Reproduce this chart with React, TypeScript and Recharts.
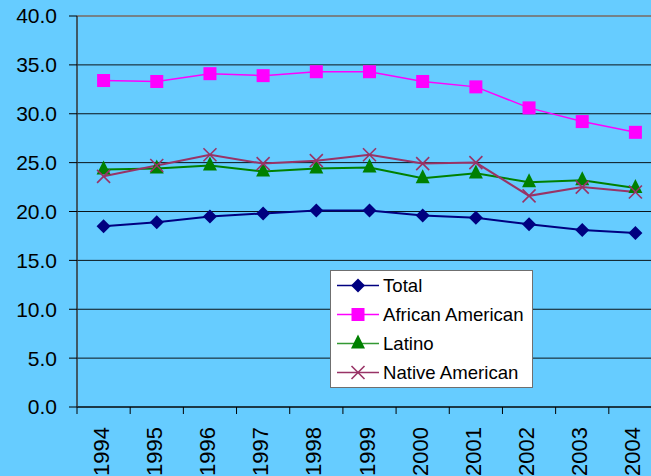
import React from 'react';
import { LineChart, Line, XAxis, YAxis, CartesianGrid, Legend, ReferenceLine } from 'recharts';

const years = ['1994', '1995', '1996', '1997', '1998', '1999', '2000', '2001', '2002', '2003', '2004'];
const total = [18.5, 18.9, 19.5, 19.8, 20.1, 20.1, 19.6, 19.35, 18.7, 18.1, 17.8];
const africanAmerican = [33.4, 33.3, 34.1, 33.9, 34.3, 34.3, 33.3, 32.75, 30.6, 29.2, 28.1];
const latino = [24.3, 24.4, 24.7, 24.1, 24.4, 24.5, 23.4, 23.9, 23.0, 23.2, 22.4];
const nativeAmerican = [23.6, 24.7, 25.8, 24.9, 25.2, 25.8, 24.9, 25.0, 21.6, 22.5, 22.0];
const yTicks = [0, 5, 10, 15, 20, 25, 30, 35, 40];

const data = years.map((year, i) => ({
  year,
  total: total[i],
  african: africanAmerican[i],
  latino: latino[i],
  native: nativeAmerican[i],
}));

const FONT = '"Liberation Sans", Arial, sans-serif';
const CHART_W = 670;
const CHART_H = 476;
const PLOT_LEFT = 77;
const PLOT_RIGHT_MARGIN = 8;
const PLOT_W = CHART_W - PLOT_LEFT - PLOT_RIGHT_MARGIN;
const BAND = PLOT_W / years.length;

type Shape = 'diamond' | 'square' | 'triangle' | 'cross';

const series: { key: string; name: string; color: string; legendLine: string; shape: Shape; width: number }[] = [
  { key: 'total', name: 'Total', color: '#000080', legendLine: '#000080', shape: 'diamond', width: 2 },
  { key: 'african', name: 'African American', color: '#FF00FF', legendLine: '#FF00FF', shape: 'square', width: 1.5 },
  { key: 'latino', name: 'Latino', color: '#008000', legendLine: '#339933', shape: 'triangle', width: 2 },
  { key: 'native', name: 'Native American', color: '#993366', legendLine: '#993366', shape: 'cross', width: 2 },
];

function Marker({ shape, cx, cy, color }: { shape: Shape; cx: number; cy: number; color: string }) {
  if (shape === 'diamond') {
    return <polygon points={`${cx},${cy - 7} ${cx + 7},${cy} ${cx},${cy + 7} ${cx - 7},${cy}`} fill={color} />;
  }
  if (shape === 'square') {
    return <rect x={cx - 6.5} y={cy - 6.5} width={13} height={13} fill={color} />;
  }
  if (shape === 'triangle') {
    return <polygon points={`${cx},${cy - 9} ${cx + 7},${cy + 5} ${cx - 7},${cy + 5}`} fill={color} />;
  }
  return (
    <g stroke={color} strokeWidth={1.6}>
      <line x1={cx - 6.5} y1={cy - 6.5} x2={cx + 6.5} y2={cy + 6.5} />
      <line x1={cx - 6.5} y1={cy + 6.5} x2={cx + 6.5} y2={cy - 6.5} />
    </g>
  );
}

function makeDot(shape: Shape, color: string) {
  return (props: any) => {
    const { cx, cy, index } = props;
    if (cx == null || cy == null) return <g key={`d-${index}`} />;
    return (
      <g key={`d-${shape}-${index}`}>
        <Marker shape={shape} cx={cx} cy={cy} color={color} />
      </g>
    );
  };
}

function XTick(props: any) {
  const { x, y, payload } = props;
  const bx = x - BAND / 2;
  return (
    <g>
      <line x1={bx} y1={y} x2={bx} y2={y + 7} stroke="#000" strokeWidth={1} />
      <text
        transform={`translate(${x + 5},${y + 20}) rotate(-90)`}
        textAnchor="end"
        fontSize={22}
        fontFamily={FONT}
        fill="#000"
      >
        {payload.value}
      </text>
    </g>
  );
}

function LegendBox() {
  return (
    <div
      style={{
        width: 201,
        height: 116,
        background: '#fff',
        border: '1px solid #6f6f6f',
        fontFamily: FONT,
        fontSize: 18.6,
        color: '#000',
      }}
    >
      {series.map((s) => (
        <div key={s.key} style={{ height: 29, display: 'flex', alignItems: 'center' }}>
          <svg width={52} height={29} style={{ display: 'block' }}>
            <line x1={6} y1={14.5} x2={48} y2={14.5} stroke={s.legendLine} strokeWidth={1.5} />
            <Marker shape={s.shape} cx={27} cy={14.5} color={s.color} />
          </svg>
          <span style={{ whiteSpace: 'nowrap', lineHeight: '29px' }}>{s.name}</span>
        </div>
      ))}
    </div>
  );
}

export default function App() {
  return (
    <div
      style={{
        position: 'fixed',
        left: 0,
        top: 0,
        width: 651,
        height: 476,
        overflow: 'hidden',
        background: '#66CCFF',
      }}
    >
      <LineChart
        width={CHART_W}
        height={CHART_H}
        data={data}
        margin={{ top: 16, right: PLOT_RIGHT_MARGIN, left: 0, bottom: 0 }}
      >
        <CartesianGrid vertical={false} stroke="#000" strokeWidth={1} strokeOpacity={0.9} />
        <ReferenceLine y={40} stroke="#888" strokeWidth={1.5} />
        <XAxis
          dataKey="year"
          height={69}
          padding={{ left: BAND / 2, right: BAND / 2 }}
          tickLine={false}
          tickSize={0}
          tickMargin={0}
          axisLine={{ stroke: '#000', strokeWidth: 1 }}
          tick={<XTick />}
          interval={0}
        />
        <YAxis
          width={PLOT_LEFT}
          domain={[0, 40]}
          ticks={yTicks}
          interval={0}
          tickFormatter={(v: number) => v.toFixed(1)}
          tickSize={8}
          tickMargin={12}
          tickLine={{ stroke: '#000' }}
          axisLine={{ stroke: '#333', strokeWidth: 1.5 }}
          tick={{ fontSize: 21, fontFamily: FONT, fill: '#000' }}
        />
        <Legend
          layout="vertical"
          align="center"
          verticalAlign="middle"
          content={() => <LegendBox />}
          wrapperStyle={{ left: 330, top: 270, width: 203, height: 118 }}
        />
        {series.map((s) => (
          <Line
            key={s.key}
            type="linear"
            dataKey={s.key}
            name={s.name}
            stroke={s.color}
            strokeWidth={s.width}
            dot={makeDot(s.shape, s.color)}
            activeDot={false}
            isAnimationActive={false}
          />
        ))}
      </LineChart>
    </div>
  );
}
